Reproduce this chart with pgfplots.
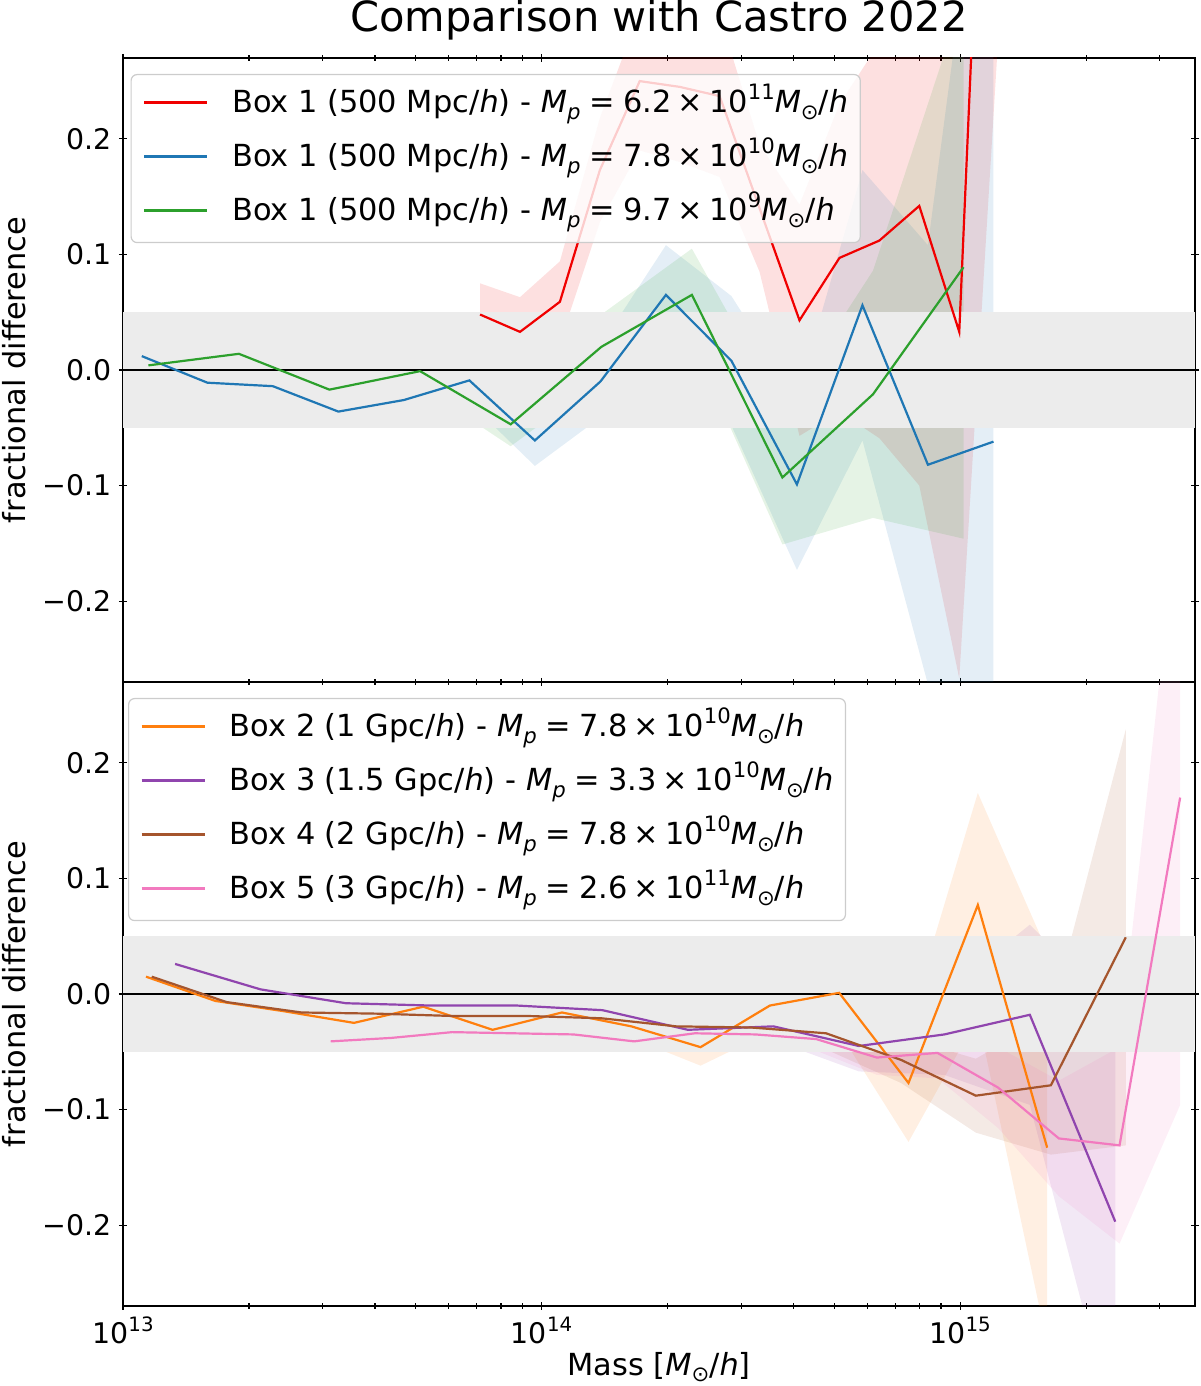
\documentclass[border=0pt]{standalone}
\usepackage{fontspec}
\setmainfont{DejaVu Sans}
\usepackage{pgfplots}
\pgfplotsset{compat=1.18}
\usepackage{pgfplotstable}
\usepgfplotslibrary{fillbetween}

\definecolor{cred}{HTML}{F00000}
\definecolor{cblue}{HTML}{1F77B4}
\definecolor{cgreen}{HTML}{2CA02C}
\definecolor{corange}{HTML}{FF7F0E}
\definecolor{cpurple}{HTML}{9045AE}
\definecolor{cbrown}{HTML}{A5552D}
\definecolor{cpink}{HTML}{F27ABF}

\newcommand\base{\fontsize{15.2}{18}\selectfont}
\newcommand\tickf{\fontsize{14.2}{17}\selectfont}
\newcommand\sps[1]{\raisebox{0.42em}{\fontsize{10.6}{12}\selectfont #1}}
\newcommand\sbs[1]{\raisebox{-0.22em}{\fontsize{10.6}{12}\selectfont #1}}
\newcommand\tsps[1]{\raisebox{0.42em}{\fontsize{9.9}{12}\selectfont #1}}
\newcommand\lab[4]{#1 (#2/\textit{h}) - \textit{M}\sbs{\textit{p}}\hspace{0.28em}=\hspace{0.28em}#3\hspace{0.2em}×\hspace{0.2em}10\sps{#4}\textit{M}\sbs{⊙}/\textit{h}}

\pgfplotstableread{
x y e
7.129e13 0.048 0.027
8.880e13 0.033 0.030
1.106e14 0.059 0.035
1.378e14 0.173 0.045
1.716e14 0.250 0.060
2.138e14 0.245 0.065
2.663e14 0.237 0.070
3.317e14 0.140 0.055
4.132e14 0.043 0.100
5.148e14 0.097 0.133
6.412e14 0.112 0.171
7.987e14 0.142 0.242
9.950e14 0.033 0.300
1.239e15 0.830 0.530
}\tred

\pgfplotstableread{
x y e
1.109e13 0.012 0.009
1.591e13 -0.011 0.009
2.280e13 -0.014 0.010
3.270e13 -0.036 0.011
4.688e13 -0.026 0.012
6.722e13 -0.009 0.019
9.638e13 -0.061 0.022
1.382e14 -0.010 0.031
1.982e14 0.065 0.043
2.841e14 0.008 0.056
4.074e14 -0.099 0.074
5.842e14 0.056 0.117
8.375e14 -0.082 0.190
1.201e15 -0.062 0.600
}\tblue

\pgfplotstableread{
x y e
1.150e13 0.004 0.006
1.892e13 0.014 0.009
3.113e13 -0.017 0.011
5.125e13 -0.001 0.013
8.437e13 -0.047 0.019
1.389e14 0.020 0.028
2.286e14 0.065 0.040
3.762e14 -0.093 0.058
6.192e14 -0.021 0.107
1.019e15 0.089 0.235
}\tgreen

\pgfplotstableread{
x y e
1.135e13 0.015 0.004
1.662e13 -0.006 0.004
2.433e13 -0.015 0.005
3.563e13 -0.025 0.005
5.217e13 -0.011 0.006
7.638e13 -0.031 0.007
1.118e14 -0.016 0.008
1.638e14 -0.028 0.010
2.398e14 -0.046 0.016
3.511e14 -0.010 0.023
5.140e14 0.001 0.034
7.527e14 -0.077 0.051
1.102e15 0.077 0.097
1.614e15 -0.133 0.170
}\torange

\pgfplotstableread{
x y e
1.332e13 0.026 0.004
2.131e13 0.004 0.004
3.410e13 -0.008 0.004
5.456e13 -0.010 0.005
8.734e13 -0.010 0.005
1.398e14 -0.014 0.006
2.237e14 -0.031 0.008
3.579e14 -0.028 0.012
5.728e14 -0.045 0.022
9.165e14 -0.035 0.035
1.467e15 -0.018 0.078
2.347e15 -0.197 0.182
}\tpurple

\pgfplotstableread{
x y e
1.171e13 0.015 0.003
1.768e13 -0.007 0.003
2.670e13 -0.016 0.003
4.033e13 -0.017 0.004
6.091e13 -0.019 0.004
9.197e13 -0.019 0.005
1.389e14 -0.021 0.006
2.097e14 -0.028 0.008
3.167e14 -0.029 0.010
4.782e14 -0.034 0.014
7.222e14 -0.057 0.020
1.090e15 -0.088 0.032
1.647e15 -0.079 0.060
2.487e15 0.049 0.180
}\tbrown

\pgfplotstableread{
x y e
3.135e13 -0.041 0.004
4.378e13 -0.038 0.004
6.114e13 -0.033 0.004
8.537e13 -0.034 0.005
1.192e14 -0.035 0.005
1.664e14 -0.041 0.006
2.323e14 -0.034 0.007
3.243e14 -0.035 0.008
4.528e14 -0.039 0.010
6.323e14 -0.055 0.015
8.827e14 -0.051 0.022
1.232e15 -0.081 0.035
1.721e15 -0.125 0.050
2.403e15 -0.131 0.085
3.354e15 0.170 0.266
}\tpink

\newcommand\band[3]{%
  \addplot[draw=none, forget plot, name path=#2u] table[x=x, y expr=\thisrow{y}+\thisrow{e}] {#1};
  \addplot[draw=none, forget plot, name path=#2l] table[x=x, y expr=\thisrow{y}-\thisrow{e}] {#1};
  \addplot[fill=#3, fill opacity=0.12, draw=none, forget plot] fill between[of=#2u and #2l];
}

\begin{document}
\begin{tikzpicture}

% ---------------- top panel ----------------
\begin{axis}[at={(0pt,312pt)}, anchor=south west,
  scale only axis, width=536pt, height=312pt,
  xmode=log, xmin=1e13, xmax=3.64e15, ymin=-0.27, ymax=0.27,
  xtick={1e13,1e14,1e15},
  minor xtick={2e13,3e13,4e13,5e13,6e13,7e13,8e13,9e13,2e14,3e14,4e14,5e14,6e14,7e14,8e14,9e14,2e15,3e15},
  xticklabels={,,},
  ytick={-0.2,-0.1,0,0.1,0.2},
  yticklabels={\mbox{−0.2},\mbox{−0.1},\mbox{0.0},\mbox{0.1},\mbox{0.2}},
  tick pos=both, tick align=center,
  major tick length=4pt, minor tick length=2.6pt,
  every tick/.style={black, line width=0.6pt},
  axis line style={line width=0.75pt},
  ticklabel style={font=\tickf},
  ylabel={fractional difference},
  ylabel style={font=\base, at={(axis description cs:-0.0914,0.5)}, anchor=base},
  title={Comparison with Castro 2022},
  every axis title/.style={font=\fontsize{20.8}{25}\selectfont, at={(axis description cs:0.5,1.0417)}, anchor=base},
  legend cell align=left,
  legend image code/.code={\draw[#1, line width=1.1pt] (0pt,5pt) -- (31.5pt,5pt); \path (43.5pt,5pt);},
  legend style={at={(axis description cs:0.007,0.9744)}, anchor=north west,
    draw=black!20, line width=0.6pt, rounded corners=3pt,
    fill=white, fill opacity=0.8, text opacity=1, draw opacity=1, font=\base,
    inner xsep=6pt, inner ysep=6pt, row sep=9pt,
    cells={anchor=base west},
    nodes={inner sep=0pt, text height=13pt, text depth=5pt}},
]
\addplot[draw=none, fill=black!7.5, forget plot] coordinates {(1e13,-0.05) (3.64e15,-0.05) (3.64e15,0.05) (1e13,0.05)};
\addplot[black, line width=0.7pt, forget plot] coordinates {(1e13,0) (3.64e15,0)};

\band{\tred}{r}{cred}
\addplot[cred, line width=1.1pt] table[x=x,y=y] {\tred};
\addlegendentry{\lab{Box 1}{500 Mpc}{6.2}{11}}

\band{\tblue}{b}{cblue}
\addplot[cblue, line width=1.1pt] table[x=x,y=y] {\tblue};
\addlegendentry{\lab{Box 1}{500 Mpc}{7.8}{10}}

\band{\tgreen}{g}{cgreen}
\addplot[cgreen, line width=1.1pt] table[x=x,y=y] {\tgreen};
\addlegendentry{\lab{Box 1}{500 Mpc}{9.7}{9}}
\end{axis}

% ---------------- bottom panel ----------------
\begin{axis}[at={(0pt,0pt)}, anchor=south west,
  scale only axis, width=536pt, height=312pt,
  xmode=log, xmin=1e13, xmax=3.64e15, ymin=-0.27, ymax=0.27,
  xtick={1e13,1e14,1e15},
  minor xtick={2e13,3e13,4e13,5e13,6e13,7e13,8e13,9e13,2e14,3e14,4e14,5e14,6e14,7e14,8e14,9e14,2e15,3e15},
  xticklabels={{\mbox{10\tsps{13}}},{\mbox{10\tsps{14}}},{\mbox{10\tsps{15}}}},
  ytick={-0.2,-0.1,0,0.1,0.2},
  yticklabels={\mbox{−0.2},\mbox{−0.1},\mbox{0.0},\mbox{0.1},\mbox{0.2}},
  tick pos=both, tick align=center,
  major tick length=4pt, minor tick length=2.6pt,
  every tick/.style={black, line width=0.6pt},
  axis line style={line width=0.75pt},
  ticklabel style={font=\tickf},
  ylabel={fractional difference},
  ylabel style={font=\base, at={(axis description cs:-0.0914,0.5)}, anchor=base},
  xlabel={Mass [\textit{M}\sbs{⊙}/\textit{h}]},
  xlabel style={font=\base, at={(axis description cs:0.5,-0.1106)}, anchor=base},
  legend cell align=left,
  legend image code/.code={\draw[#1, line width=1.1pt] (0pt,5pt) -- (31.5pt,5pt); \path (43.5pt,5pt);},
  legend style={at={(axis description cs:0.0047,0.9744)}, anchor=north west,
    draw=black!20, line width=0.6pt, rounded corners=3pt,
    fill=white, fill opacity=0.8, text opacity=1, draw opacity=1, font=\base,
    inner xsep=6pt, inner ysep=6pt, row sep=9pt,
    cells={anchor=base west},
    nodes={inner sep=0pt, text height=13pt, text depth=5pt}},
]
\addplot[draw=none, fill=black!7.5, forget plot] coordinates {(1e13,-0.05) (3.64e15,-0.05) (3.64e15,0.05) (1e13,0.05)};
\addplot[black, line width=0.7pt, forget plot] coordinates {(1e13,0) (3.64e15,0)};

\band{\torange}{o}{corange}
\addplot[corange, line width=1.1pt] table[x=x,y=y] {\torange};
\addlegendentry{\lab{Box 2}{1 Gpc}{7.8}{10}}

\band{\tpurple}{p}{cpurple}
\addplot[cpurple, line width=1.1pt] table[x=x,y=y] {\tpurple};
\addlegendentry{\lab{Box 3}{1.5 Gpc}{3.3}{10}}

\band{\tbrown}{w}{cbrown}
\addplot[cbrown, line width=1.1pt] table[x=x,y=y] {\tbrown};
\addlegendentry{\lab{Box 4}{2 Gpc}{7.8}{10}}

\band{\tpink}{k}{cpink}
\addplot[cpink, line width=1.1pt] table[x=x,y=y] {\tpink};
\addlegendentry{\lab{Box 5}{3 Gpc}{2.6}{11}}
\end{axis}

\pgfresetboundingbox
\path[use as bounding box] (-61.5pt,-40pt) rectangle (538.5pt,653pt);
\end{tikzpicture}
\end{document}
